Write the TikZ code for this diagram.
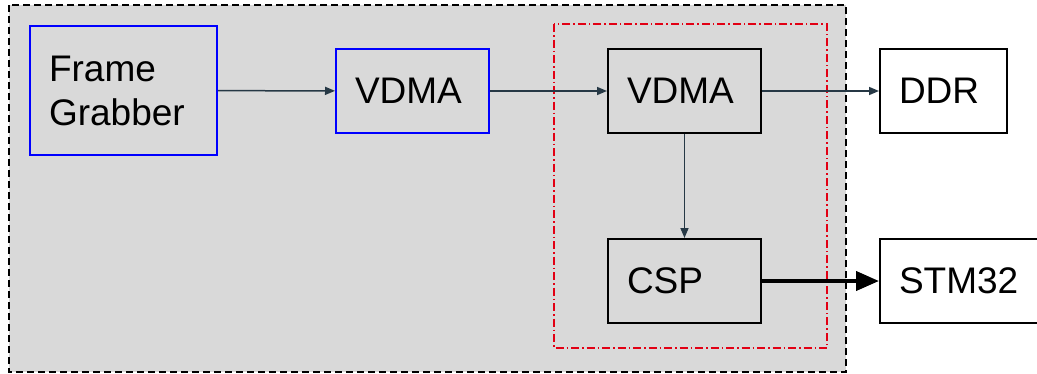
\documentclass[tikz,border=0pt]{standalone}
\usepackage{fontspec}
\setmainfont{Liberation Sans}
\usetikzlibrary{arrows.meta}
\definecolor{bggray}{RGB}{217,217,217}
\definecolor{conncol}{RGB}{38,56,69}
\definecolor{boxblue}{RGB}{0,0,255}
\definecolor{grpred}{RGB}{226,0,20}
\begin{document}
\begin{tikzpicture}[x=1pt,y=-1pt,
  box/.style={draw, line width=2pt, minimum height=84pt, inner xsep=19pt, inner ysep=0pt,
    align=left, anchor=north west, font=\fontsize{37}{44}\selectfont, fill=#1},
  box/.default=bggray,
  conn/.style={draw=conncol, line width=1.5pt, -{Triangle[length=10pt,width=8pt]}},
  thickconn/.style={draw=black, line width=4pt, -{Triangle[length=23pt,width=19pt]}}
]
\useasboundingbox (0,0) rectangle (1037,373);
\fill[white] (0,0) rectangle (1037,373);
% outer dashed region
\draw[fill=bggray, line width=1.6pt, dash pattern=on 7pt off 4pt] (9,5) rectangle (846,372);
% red dash-dot group
\draw[grpred, line width=1.4pt, dash pattern=on 8pt off 3pt on 1.5pt off 3pt] (554,24) rectangle (827,348);
% boxes
\node[box, draw=boxblue, text width=149pt, minimum height=129pt] (fg) at (29,25) {Frame\\Grabber};
\node[box, draw=boxblue, text width=115pt] (vdmaa) at (335,48) {VDMA};
\node[box, text width=115pt] (vdmab) at (607,48) {VDMA};
\node[box=white, text width=89pt] (ddr) at (879,48) {DDR};
\node[box, text width=115pt] (csp) at (607,238) {CSP};
\node[box=white, text width=150pt] (stm) at (879,238) {STM32};
% connectors
\draw[conn] (fg) -- (vdmaa);
\draw[conn] (vdmaa) -- (vdmab);
\draw[conn] (vdmab) -- (ddr);
\draw[conn] (vdmab) -- (csp);
\draw[thickconn] (csp.east) -- (stm.west);
\end{tikzpicture}
\end{document}
